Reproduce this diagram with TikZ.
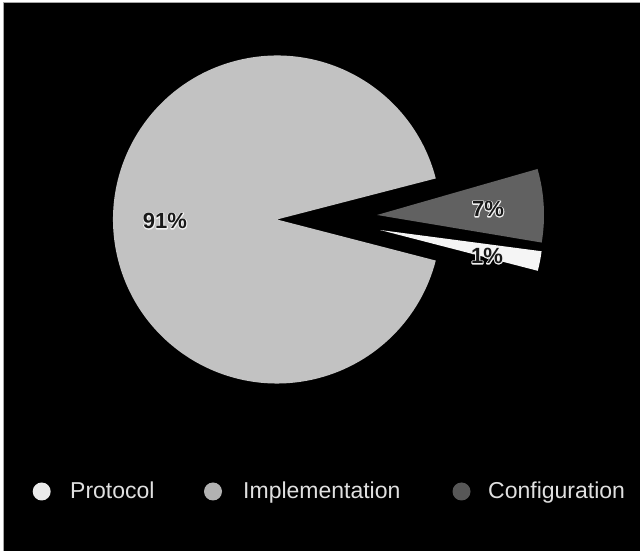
\documentclass[tikz,border=0pt]{standalone}
\usepackage{fontspec}
\setmainfont{Liberation Sans}

% slice and legend colours
\definecolor{sliceimpl}{gray}{0.76}
\definecolor{sliceconf}{gray}{0.38}
\definecolor{sliceprot}{gray}{0.96}
\definecolor{legdotprot}{gray}{0.92}
\definecolor{legdotimpl}{gray}{0.70}
\definecolor{legdotconf}{gray}{0.34}
\definecolor{legtext}{gray}{0.88}
\definecolor{pcttext}{gray}{0.1}

% white stroked outline underneath, dark filled glyphs on top
\newcommand\outlined[1]{%
  \rlap{\special{pdf:literal direct 0.95 G 2 w 1 j 1 Tr}#1\special{pdf:literal direct 0 Tr}}#1}

\tikzset{
  pct/.style={font=\fontsize{22}{26}\selectfont\bfseries, text=pcttext, inner sep=0pt},
  legdot/.style={circle, minimum size=18pt, inner sep=0pt, draw=none},
  legtxt/.style={font=\fontsize{23}{27}\selectfont, text=legtext, inner sep=0pt, anchor=base west},
}

\begin{document}
\begin{tikzpicture}[x=1pt,y=1pt]
\useasboundingbox (0,0) rectangle (640,551);
% frame: thin white margin on the left and top, black field
\fill[white] (0,0) rectangle (640,551);
\fill[black] (3,0) rectangle (640,549);
\draw[gray!70, line width=0.8pt] (3,0) -- (3,549) -- (640,549);

% large slice (91%)
\coordinate (c0) at (277,331.5);
\fill[sliceimpl] (c0) -- ++(14.5:164) arc[start angle=14.5, end angle=345.5, radius=164] -- cycle;

% exploded slice (7%)
\coordinate (c1) at (377,336);
\fill[sliceconf] (c1) -- ++(-9.5:167) arc[start angle=-9.5, end angle=16, radius=167] -- cycle;

% exploded slice (1%)
\coordinate (c2) at (380,321);
\fill[sliceprot] (c2) -- ++(-14.5:163) arc[start angle=-14.5, end angle=-7.5, radius=163] -- cycle;

% percentage labels
\node[pct] (p91) at (165,330) {\outlined{91\%}};
\node[pct] (p7)  at (488,342) {\outlined{7\%}};
\node[pct] (p1)  at (487,295) {\outlined{1\%}};

% legend
\node[legdot, fill=legdotprot] (d1) at (41.7,59.5) {};
\node[legtxt] (t1) at (70,52.5) {Protocol};
\node[legdot, fill=legdotimpl] (d2) at (213,59.5) {};
\node[legtxt] (t2) at (243,52.5) {Implementation};
\node[legdot, fill=legdotconf] (d3) at (461.5,59.5) {};
\node[legtxt] (t3) at (488,52.5) {Configuration};
\end{tikzpicture}
\end{document}
